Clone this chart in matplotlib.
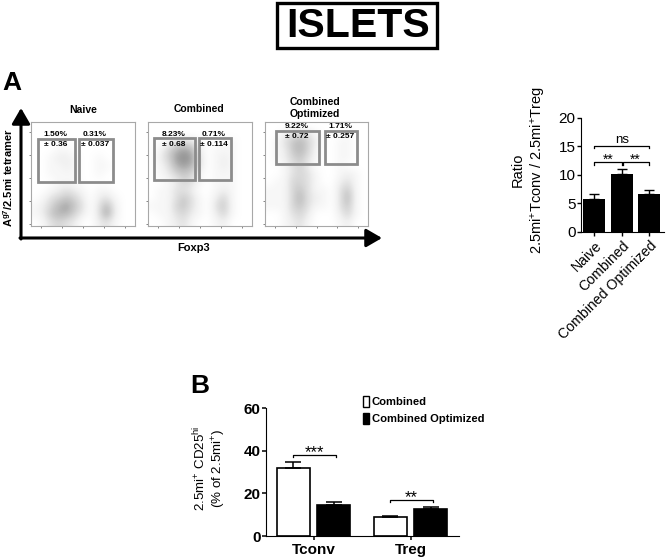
import numpy as np
from matplotlib import pyplot as plt

plt.rcParams['font.family'] = ['Liberation Sans', 'DejaVu Sans']
plt.rcParams['mathtext.fontset'] = 'custom'
plt.rcParams['mathtext.default'] = 'regular'
plt.rcParams['mathtext.rm'] = 'Liberation Sans'
plt.rcParams['mathtext.bf'] = 'Liberation Sans:bold'

W = 666
H = 557

#Flow panels. Darkness of each plot region read by eye, 0 is empty and 9 the densest.
panelNames = ['Naive', 'Combined', 'Combined\nOptimized']
panelPercents = [['1.50%', '0.31%'], ['8.23%', '0.71%'], ['9.22%', '1.71%']]
panelErrors = [['± 0.36', '± 0.037'], ['± 0.68', '± 0.114'], ['± 0.72', '± 0.257']]
naiveDensity = ['0000000000000',
                '0000000000000',
                '0000000000000',
                '0001100000000',
                '0012210010000',
                '0011210011000',
                '0011110010000',
                '0001110000000',
                '0012321011000',
                '0134542023100',
                '1246753036200',
                '1256642037200',
                '0134320023100']
combinedDensity = ['0000000000000',
                   '0000000000000',
                   '0013431001100',
                   '0146762011100',
                   '0247873012100',
                   '0136763012100',
                   '0124541011100',
                   '0012431011100',
                   '0113320012100',
                   '0113531024100',
                   '1114531035100',
                   '0113421024100',
                   '0012310012000']
optimizedDensity = ['0000000000000',
                    '0023431000100',
                    '0135642001100',
                    '0125641001100',
                    '0124531001100',
                    '0013420001000',
                    '0013431001210',
                    '0114431002310',
                    '1114531103510',
                    '1114632103610',
                    '1114531103510',
                    '0013420002410',
                    '0012310001200']

#Ratio bars
ratioLabels = ['Naive', 'Combined', 'Combined Optimized']
ratioValues = [5.8, 10.2, 6.6]
ratioErrors = [0.9, 0.9, 0.8]

#CD25 bars
cd25Groups = ['Tconv', 'Treg']
cd25Combined = [31.8, 8.9]
cd25CombinedErrors = [2.7, 0.6]
cd25Optimized = [14.5, 12.7]
cd25OptimizedErrors = [1.3, 0.9]

panelBoxes = [(31, 122, 135, 226), (148, 122, 252, 226), (265, 122, 368, 226)]
gateBoxes = [[(38, 139, 75, 182), (79, 139, 113, 182)],
             [(154, 138, 195, 180), (199, 138, 231, 180)],
             [(276, 131, 319, 164), (325, 131, 357, 164)]]
titleSpots = [(83, 110), (199, 109), (315, 108)]


#Makes an axes from a pixel box given as left, top, right, bottom.
def pixelAxes(fig, left, top, right, bottom):
    return fig.add_axes([left / W, 1 - bottom / H, (right - left) / W, (bottom - top) / H])


fig = plt.figure(figsize=(W / 100, H / 100), dpi=100)

#Whole figure overlay in pixel coordinates, for titles and arrows
page = fig.add_axes([0, 0, 1, 1], zorder=5)
page.set_xlim(0, W)
page.set_ylim(H, 0)
page.axis('off')
page.patch.set_alpha(0)

page.add_patch(plt.Rectangle((277, 3), 160, 45, fill=False, edgecolor='black', linewidth=2.4))
page.text(358, 26, 'ISLETS', fontsize=29.5, fontweight='bold', ha='center', va='center')
page.text(2, 83, 'A', fontsize=19, fontweight='bold', ha='left', va='center')
page.text(190, 386, 'B', fontsize=19, fontweight='bold', ha='left', va='center')

#Big axis arrows of the flow panels
page.annotate('', xy=(21, 108), xytext=(21, 239), arrowprops=dict(arrowstyle='-|>,head_width=0.55,head_length=0.95', color='black', lw=2.2, shrinkA=0, shrinkB=0))
page.annotate('', xy=(382, 238), xytext=(20, 238), arrowprops=dict(arrowstyle='-|>,head_width=0.55,head_length=0.95', color='black', lw=2.2, shrinkA=0, shrinkB=0))
page.text(8, 178, r'A$^{g7}$/2.5mi tetramer', rotation=90, fontsize=8, fontweight='bold', ha='center', va='center')
page.text(194, 248, 'Foxp3', fontsize=8, fontweight='bold', ha='center', va='center')

densities = [naiveDensity, combinedDensity, optimizedDensity]
for i in range(3):
    left, top, right, bottom = panelBoxes[i]
    ax = pixelAxes(fig, left, top, right, bottom)
    grid = np.array([[int(c) for c in row] for row in densities[i]])
    ax.imshow(grid, cmap='Greys', vmin=0, vmax=15, aspect='auto', interpolation='bicubic', extent=[0, 1, 0, 1])
    ax.set_xticks(np.linspace(0.1, 0.9, 5))
    ax.set_yticks(np.linspace(0.02, 0.9, 5))
    ax.tick_params(labelbottom=False, labelleft=False, length=1.5, width=0.5, color='#555555')
    for s in ax.spines.values():
        s.set_color('#a8a8a8')
        s.set_linewidth(0.8)
    page.text(titleSpots[i][0], titleSpots[i][1], panelNames[i], fontsize=7.5, fontweight='bold', ha='center', va='center', linespacing=1.2)
    for j in range(2):
        gLeft, gTop, gRight, gBottom = gateBoxes[i][j]
        page.add_patch(plt.Rectangle((gLeft, gTop), gRight - gLeft, gBottom - gTop, fill=False, edgecolor='#8c8c8c', linewidth=2))
        middle = (gLeft + gRight) / 2
        page.text(middle - 1, gTop - 4, panelPercents[i][j], fontsize=6, fontweight='bold', ha='center', va='center')
        page.text(middle - 1, gTop + 6, panelErrors[i][j], fontsize=6, fontweight='bold', ha='center', va='center')

#Ratio chart
ax = pixelAxes(fig, 581, 118, 664, 232)
positions = np.arange(3)
ax.bar(positions, ratioValues, width=0.8, color='black')
ax.errorbar(positions, ratioValues, yerr=[[0, 0, 0], ratioErrors], fmt='none', ecolor='black', elinewidth=1, capsize=3.8, capthick=1)
ax.set_xlim(-0.49, 2.53)
ax.set_ylim(0, 20)
ax.set_yticks([0, 5, 10, 15, 20])
ax.set_xticks(positions)
ax.set_xticklabels(ratioLabels, rotation=45, ha='right', rotation_mode='anchor', fontsize=10.2)
ax.tick_params(axis='y', labelsize=11, width=1, length=3, pad=1)
ax.tick_params(axis='x', width=1, length=3, pad=2)
ax.spines['top'].set_visible(False)
ax.spines['right'].set_visible(False)
ax.plot([0, 0, 1, 1], [11.8, 12.3, 12.3, 11.8], color='black', lw=0.9)
ax.plot([1.05, 1.05, 2, 2], [11.8, 12.3, 12.3, 11.8], color='black', lw=0.9)
ax.plot([0, 0, 2, 2], [14.7, 15.1, 15.1, 14.7], color='black', lw=0.9)
ax.text(0.5, 12.7, '**', fontsize=10, ha='center', va='center')
ax.text(1.5, 12.7, '**', fontsize=10, ha='center', va='center')
ax.text(1.0, 16.2, 'ns', fontsize=9.5, ha='center', va='center')
page.text(518, 170, 'Ratio', rotation=90, fontsize=10.5, ha='center', va='center')
page.text(538, 170, r'2.5mi$^{+}$Tconv / 2.5mi$^{+}$Treg', rotation=90, fontsize=10.5, ha='center', va='center')

#CD25 chart
ax = pixelAxes(fig, 266, 408, 459, 536)
groupSpots = np.arange(2)
barWidth = 33 / 97
ax.bar(groupSpots - 0.209, cd25Combined, width=barWidth, facecolor='white', edgecolor='black', linewidth=1.2)
ax.bar(groupSpots + 0.209, cd25Optimized, width=barWidth, color='black', edgecolor='black', linewidth=1.2)
ax.errorbar(groupSpots - 0.209, cd25Combined, yerr=[[0, 0], cd25CombinedErrors], fmt='none', ecolor='black', elinewidth=1.1, capsize=6, capthick=1.1)
ax.errorbar(groupSpots + 0.209, cd25Optimized, yerr=[[0, 0], cd25OptimizedErrors], fmt='none', ecolor='black', elinewidth=1.1, capsize=6, capthick=1.1)
ax.set_xlim(-0.49, 1.5)
ax.set_ylim(0, 60)
ax.set_yticks([0, 20, 40, 60])
ax.set_xticks(groupSpots)
ax.set_xticklabels(cd25Groups, fontsize=11, fontweight='bold')
ax.tick_params(axis='y', labelsize=11, width=1.1, length=3, pad=1)
ax.tick_params(axis='x', width=1.1, length=3, pad=2)
for label in ax.get_yticklabels():
    label.set_fontweight('bold')
ax.spines['top'].set_visible(False)
ax.spines['right'].set_visible(False)
ax.plot([-0.21, -0.21, 0.23, 0.23], [37, 38, 38, 37], color='black', lw=0.9)
ax.plot([0.79, 0.79, 1.23, 1.23], [16, 17, 17, 16], color='black', lw=0.9)
ax.text(0.01, 39.0, '***', fontsize=12, ha='center', va='center')
ax.text(1.01, 18.0, '**', fontsize=12, ha='center', va='center')
page.add_patch(plt.Rectangle((362.5, 396), 6, 11, facecolor='white', edgecolor='black', linewidth=1))
page.add_patch(plt.Rectangle((362.5, 413), 6, 11, facecolor='black', edgecolor='black', linewidth=1))
page.text(372, 402, 'Combined', fontsize=8.1, fontweight='bold', ha='left', va='center')
page.text(372, 419, 'Combined Optimized', fontsize=8.1, fontweight='bold', ha='left', va='center')
page.text(200, 468, r'2.5mi$^{+}$ CD25$^{hi}$', rotation=90, fontsize=9.6, ha='center', va='center')
page.text(219, 468, r'(% of 2.5mi$^{+}$)', rotation=90, fontsize=9.6, ha='center', va='center')

fig.savefig('out.png', dpi=100)
